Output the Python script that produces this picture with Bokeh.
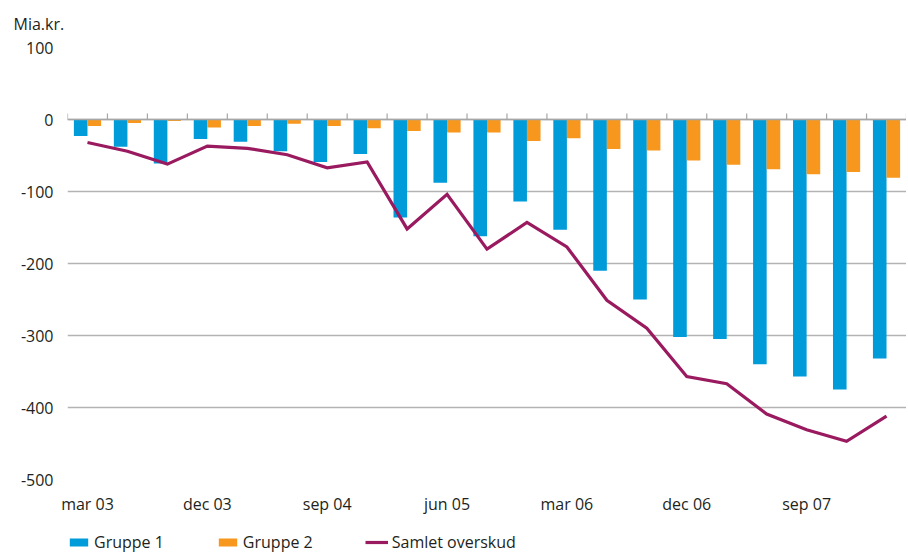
from bokeh.plotting import figure
from bokeh.layouts import column
from bokeh.models import (Range1d, FixedTicker, Span, Legend, LegendItem,
                          ColumnDataSource)
from bokeh.embed import file_html
from bokeh.resources import INLINE

# ---- data ----
quarters = ["mar 03", "jun 03", "sep 03", "dec 03", "mar 04", "jun 04", "sep 04",
            "dec 04", "mar 05", "jun 05", "sep 05", "dec 05", "mar 06", "jun 06",
            "sep 06", "dec 06", "mar 07", "jun 07", "sep 07", "dec 07", "mar 08"]
gruppe1 = [-23, -38, -61, -27, -31, -44, -59, -48, -136, -88, -162, -114, -153,
           -210, -250, -302, -305, -340, -357, -375, -332]
gruppe2 = [-9, -5, -2, -11, -9, -6, -9, -12, -16, -18, -18, -30, -26,
           -41, -43, -57, -63, -69, -76, -73, -81]
samlet = [-32, -44, -62, -37, -40, -49, -67, -59, -152, -104, -180, -143, -177,
          -251, -290, -357, -367, -409, -431, -447, -412]
y_ticks = [100, 0, -100, -200, -300, -400, -500]
series_names = ["Gruppe 1", "Gruppe 2", "Samlet overskud"]
label_every = 3

FONT = "Open Sans"
TXT = "#231F20"
BLUE = "#009BD9"
ORANGE = "#F7971D"
PURPLE = "#9A1A60"
GRID = "#b3b3b3"

W = 906
H_MAIN = 522
H_LEG = 37

idx = list(range(len(quarters)))
src = ColumnDataSource(dict(
    x=idx,
    x1=[i - 0.17 for i in idx],
    x2=[i + 0.17 for i in idx],
    g1=gruppe1, g2=gruppe2, s=samlet,
))

p = figure(width=W, height=H_MAIN, output_backend="svg", toolbar_location=None,
           x_range=Range1d(-0.5, len(quarters) - 0.5),
           y_range=Range1d(-500, 100),
           min_border_left=67, min_border_right=0, min_border_top=47,
           min_border_bottom=H_MAIN - 479)
p.outline_line_color = None
p.background_fill_color = "white"
p.border_fill_color = "white"

p.title.text = "Mia.kr."
p.title.align = "left"
p.title.vertical_align = "top"
p.title.offset = -54
p.title.standoff = 22
p.title.text_font = FONT
p.title.text_font_size = "16px"
p.title.text_font_style = "normal"
p.title.text_color = TXT

# grid
p.xgrid.grid_line_color = None
p.ygrid.ticker = FixedTicker(ticks=y_ticks)
p.ygrid.grid_line_color = GRID
p.ygrid.grid_line_width = 1.3

# axes
p.yaxis.ticker = FixedTicker(ticks=y_ticks)
p.yaxis.major_label_overrides = {t: str(t) for t in y_ticks}
p.yaxis.axis_line_color = None
p.yaxis.major_tick_line_color = None
p.yaxis.major_tick_out = 0
p.yaxis.minor_tick_line_color = None
p.yaxis.minor_tick_out = 0
p.yaxis.major_label_text_font = FONT
p.yaxis.major_label_text_font_size = "16px"
p.yaxis.major_label_text_color = TXT
p.yaxis.major_label_standoff = 14

xt = idx[::label_every]
p.xaxis.ticker = FixedTicker(ticks=xt)
p.xaxis.major_label_overrides = {i: quarters[i] for i in xt}
p.xaxis.axis_line_color = None
p.xaxis.major_tick_line_color = None
p.xaxis.major_tick_out = 0
p.xaxis.minor_tick_line_color = None
p.xaxis.minor_tick_out = 0
p.xaxis.major_label_text_font = FONT
p.xaxis.major_label_text_font_size = "16px"
p.xaxis.major_label_text_color = TXT
p.xaxis.major_label_standoff = 13

# zero line with upward category ticks
p.add_layout(Span(location=0, dimension="width", line_color="#a6a6a6", line_width=1.5))
bounds = [i - 0.5 for i in range(len(quarters) + 1)]
p.segment(x0=bounds, x1=bounds, y0=[0] * len(bounds), y1=[8.3] * len(bounds),
          line_color="#a6a6a6", line_width=1.2)

p.vbar(x="x1", top="g1", bottom=0, width=0.34, source=src,
       fill_color=BLUE, line_color=None)
p.vbar(x="x2", top="g2", bottom=0, width=0.34, source=src,
       fill_color=ORANGE, line_color=None)
p.line(x="x", y="s", source=src, line_color=PURPLE, line_width=3.2,
       line_join="miter")

# ---- legend strip (separate small figure under the chart) ----
lg = figure(width=W, height=H_LEG, output_backend="svg", toolbar_location=None,
            x_range=Range1d(0, 1), y_range=Range1d(0, 1),
            min_border_left=0, min_border_right=0, min_border_top=0,
            min_border_bottom=0)
lg.axis.visible = False
lg.grid.visible = False
lg.outline_line_color = None
lg.border_fill_color = "white"
# zero-size proxy glyphs that only feed the legend swatches
proxy = ColumnDataSource(dict(x=[0], y=[0]))
l1 = lg.vbar(x="x", top="y", bottom=0, width=0, source=proxy,
             fill_color=BLUE, line_color=None)
l2 = lg.vbar(x="x", top="y", bottom=0, width=0, source=proxy,
             fill_color=ORANGE, line_color=None)
l3 = lg.line(x="x", y="y", source=proxy, line_color=PURPLE, line_width=3.2)

legend = Legend(items=[LegendItem(label=series_names[0], renderers=[l1]),
                       LegendItem(label=series_names[1], renderers=[l2]),
                       LegendItem(label=series_names[2], renderers=[l3])],
                orientation="horizontal", location=(0, 6),
                glyph_width=23, glyph_height=10, label_standoff=4, spacing=52,
                padding=0, margin=0, border_line_color=None,
                background_fill_alpha=0,
                label_text_font=FONT, label_text_font_size="16px",
                label_text_color=TXT)
lg.add_layout(legend, "center")

layout = column(p, lg, spacing=0)
open("out.html", "w").write(file_html(layout, INLINE))
